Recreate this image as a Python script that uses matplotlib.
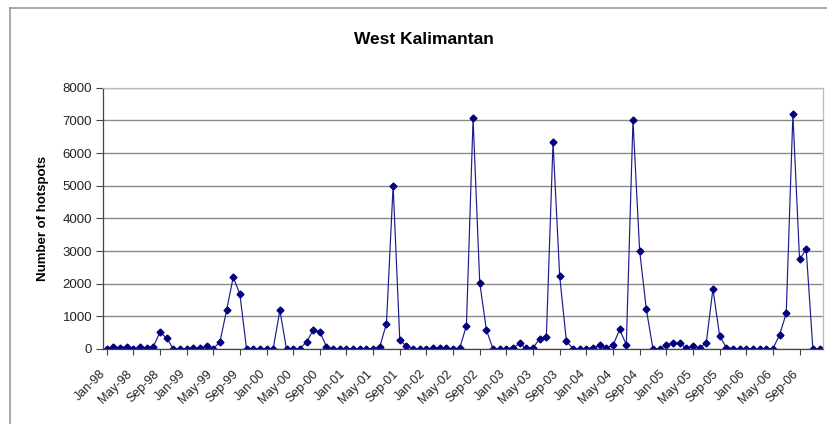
import numpy as np
import matplotlib.pyplot as plt
import matplotlib.transforms as mtransforms
from matplotlib.lines import Line2D

plt.rcParams['font.family'] = ['Liberation Sans', 'DejaVu Sans']

# monthly hotspot counts, Jan-98 .. Dec-06
y1998 = [0, 70, 40, 70, 10, 50, 30, 70, 510, 340, 10, 0]
y1999 = [0, 30, 20, 80, 10, 210, 1180, 2200, 1680, 0, 0, 0]
y2000 = [0, 10, 1180, 0, 10, 10, 210, 580, 530, 70, 0, 0]
y2001 = [0, 10, 10, 0, 0, 70, 780, 5000, 270, 90, 10, 0]
y2002 = [0, 30, 40, 30, 0, 30, 710, 7060, 2030, 580, 0, 0]
y2003 = [10, 30, 170, 20, 30, 320, 380, 6330, 2230, 250, 0, 0]
y2004 = [10, 40, 110, 40, 110, 600, 130, 7000, 3010, 1220, 0, 0]
y2005 = [130, 180, 180, 30, 90, 30, 190, 1840, 410, 40, 10, 0]
y2006 = [0, 0, 0, 0, 10, 430, 1090, 7180, 2740, 3050, 0, 0]

hotspots = y1998 + y1999 + y2000 + y2001 + y2002 + y2003 + y2004 + y2005 + y2006
months = ['Jan', 'Feb', 'Mar', 'Apr', 'May', 'Jun', 'Jul', 'Aug', 'Sep', 'Oct', 'Nov', 'Dec']
labels = ['%s-%02d' % (m, yr % 100) for yr in range(1998, 2007) for m in months]

x = np.arange(len(hotspots))

fig = plt.figure(figsize=(8.27, 4.24), dpi=100)
ax = fig.add_axes([0.1249, 0.1769, 0.8701, 0.6163])

ax.plot(x, hotspots, color='#1c1c8c', lw=0.85, marker='D', ms=3.5,
        mec='#000080', mfc='#000080')

ax.set_xlim(-0.5, len(hotspots) - 0.5)
ax.set_ylim(0, 8000)
ax.set_yticks(np.arange(0, 8001, 1000))
ax.yaxis.grid(True, color='#8a8a8a', lw=1)
ax.set_axisbelow(True)

ax.set_xticks(x[::4])
ax.set_xticklabels(labels[::4], rotation=45, ha='right', rotation_mode='anchor',
                   fontsize=9, color='#222222')
ax.tick_params(axis='x', length=4, width=0.8, color='#444444', pad=3)
ax.tick_params(axis='y', length=5, width=0.8, color='#444444', labelsize=9.5,
               labelcolor='#222222', pad=3)

# nudge the slanted month labels down and to the left like the original
shift = mtransforms.ScaledTranslation(-7 / 100, -9 / 100, fig.dpi_scale_trans)
for lab in ax.get_xticklabels():
    lab.set_transform(lab.get_transform() + shift)

for s in ['left', 'bottom']:
    ax.spines[s].set_color('#444444')
    ax.spines[s].set_linewidth(0.9)
for s in ['top', 'right']:
    ax.spines[s].set_color('#bbbbbb')
    ax.spines[s].set_linewidth(0.9)

ax.set_ylabel('Number of hotspots', fontsize=9.5, fontweight='bold', labelpad=10)
fig.text(0.513, 1 - 40 / 424, 'West Kalimantan', ha='center', va='center',
         fontsize=12.5, fontweight='bold')

# outer chart frame (cropped at right and bottom)
fig.add_artist(Line2D([10 / 827, 10 / 827], [0, 1 - 8 / 424], color='#999999', lw=1.2,
                      transform=fig.transFigure))
fig.add_artist(Line2D([10 / 827, 1], [1 - 8 / 424, 1 - 8 / 424], color='#999999', lw=1.2,
                      transform=fig.transFigure))

fig.savefig('out.png', dpi=100)
